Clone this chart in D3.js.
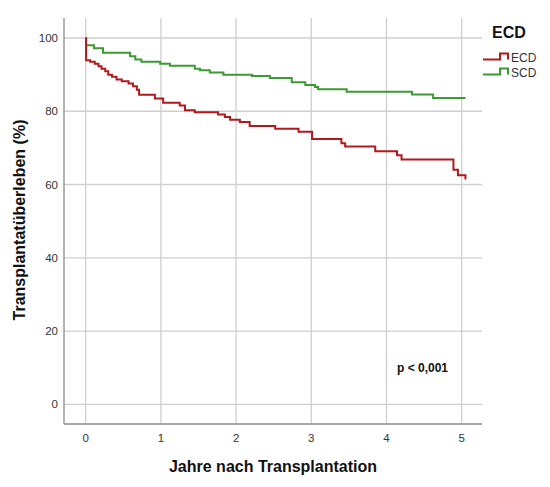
<!DOCTYPE html>
<html>
<head>
<meta charset="utf-8">
<title>Transplantatüberleben ECD vs SCD</title>
<script src="https://cdn.jsdelivr.net/npm/d3@7/dist/d3.min.js"></script>
<style>
  body { margin: 0; background: #fff; }
  text { font-family: Arial, "Liberation Sans", sans-serif; }
</style>
</head>
<body>
<svg id="chart" width="550" height="487"></svg>
<script>
// Kaplan-Meier steps: [years, survival %]
var ecdSteps = [[0,100],[0.005,93.9],[0.06,93.5],[0.12,93.0],[0.17,92.3],[0.21,91.6],[0.26,90.9],
  [0.30,90.0],[0.35,89.4],[0.41,88.7],[0.48,88.2],[0.57,87.6],[0.63,86.8],[0.68,85.9],[0.71,84.5],
  [0.92,83.5],[1.03,82.3],[1.25,81.6],[1.32,80.3],[1.45,79.7],[1.76,79.1],[1.85,78.4],[1.92,77.7],
  [2.05,77.1],[2.18,76.0],[2.52,75.2],[2.83,74.4],[3.01,72.4],[3.40,71.3],[3.45,70.4],[3.85,69.1],
  [4.14,68.0],[4.20,66.8],[4.89,64.0],[4.95,62.5],[5.05,61.4]];
var scdSteps = [[0,100],[0.005,98.0],[0.11,97.2],[0.23,96.0],[0.59,95.0],[0.66,94.1],[0.74,93.5],
  [0.99,93.0],[1.12,92.4],[1.45,91.6],[1.52,91.2],[1.65,90.6],[1.83,90.0],[2.21,89.6],[2.45,89.1],
  [2.74,87.9],[2.92,87.2],[3.05,86.6],[3.09,86.0],[3.47,85.3],[4.34,84.6],[4.62,83.6],[5.05,83.6]];
var xTicks = [0, 1, 2, 3, 4, 5];
var yTicks = [0, 20, 40, 60, 80, 100];
var groups = ["ECD", "SCD"];
var colors = { ECD: "#b0191e", SCD: "#3c9a32" };

var svg = d3.select("#chart");

var x = d3.scaleLinear().domain([0, 5]).range([85.7, 461.7]);
var y = d3.scaleLinear().domain([0, 100]).range([404.3, 38]);
var plotL = 64, plotR = 482, plotT = 18, plotB = 424;

// grid
svg.append("g").selectAll("line").data(yTicks).enter().append("line")
  .attr("x1", plotL).attr("x2", plotR)
  .attr("y1", function(d) { return y(d); }).attr("y2", function(d) { return y(d); })
  .attr("stroke", "#cfcfcf").attr("stroke-width", 1.3);
svg.append("g").selectAll("line").data(xTicks).enter().append("line")
  .attr("y1", plotT).attr("y2", plotB)
  .attr("x1", function(d) { return x(d); }).attr("x2", function(d) { return x(d); })
  .attr("stroke", "#cfcfcf").attr("stroke-width", 1.3);

// axes lines
svg.append("line").attr("x1", plotL).attr("x2", plotL).attr("y1", plotT).attr("y2", plotB)
  .attr("stroke", "#8c8c8c").attr("stroke-width", 1.3);
svg.append("line").attr("x1", plotL).attr("x2", plotR).attr("y1", plotB).attr("y2", plotB)
  .attr("stroke", "#8c8c8c").attr("stroke-width", 1.3);

// tick labels
svg.append("g").selectAll("text").data(yTicks).enter().append("text")
  .attr("x", 58).attr("y", function(d) { return y(d) + 4; })
  .attr("text-anchor", "end").attr("font-size", 11.5).attr("fill", "#333")
  .text(function(d) { return d; });
svg.append("g").selectAll("text").data(xTicks).enter().append("text")
  .attr("x", function(d) { return x(d); }).attr("y", 442)
  .attr("text-anchor", "middle").attr("font-size", 11.5).attr("fill", "#333")
  .text(function(d) { return d; });

// axis titles
svg.append("text").attr("x", 273).attr("y", 472).attr("text-anchor", "middle")
  .attr("font-size", 16).attr("font-weight", "bold").attr("fill", "#111")
  .text("Jahre nach Transplantation");
svg.append("text").attr("transform", "translate(25,220) rotate(-90)").attr("text-anchor", "middle")
  .attr("font-size", 16).attr("font-weight", "bold").attr("fill", "#111")
  .text("Transplantatüberleben (%)");

// curves
var line = d3.line().curve(d3.curveStepAfter)
  .x(function(d) { return x(d[0]); }).y(function(d) { return y(d[1]); });
var series = { ECD: ecdSteps, SCD: scdSteps };
groups.slice().reverse().forEach(function(g) {
  svg.append("path").datum(series[g]).attr("d", line)
    .attr("fill", "none").attr("stroke", colors[g]).attr("stroke-width", 2);
});

// p value
svg.append("text").attr("x", 397).attr("y", 372).attr("font-size", 12).attr("font-weight", "bold")
  .attr("fill", "#111").text("p < 0,001");

// legend
svg.append("text").attr("x", 492).attr("y", 38).attr("font-size", 16).attr("font-weight", "bold")
  .attr("fill", "#111").text("ECD");
var leg = svg.append("g").selectAll("g").data(groups).enter().append("g")
  .attr("transform", function(d, i) { return "translate(0," + (i * 15) + ")"; });
leg.append("path")
  .attr("d", "M483,59.5 L500,59.5 L500,53.5 L508,53.5 L508,59.5")
  .attr("fill", "none").attr("stroke", function(d) { return colors[d]; }).attr("stroke-width", 2);
leg.append("text").attr("x", 511).attr("y", 62).attr("font-size", 12).attr("fill", "#333")
  .text(function(d) { return d; });
</script>
</body>
</html>
